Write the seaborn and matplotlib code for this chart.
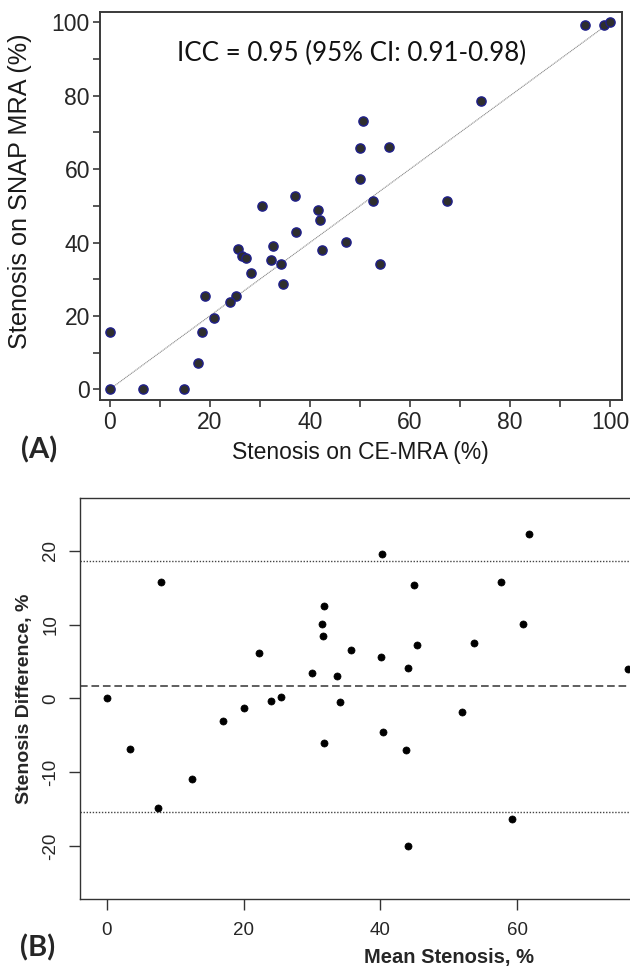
import matplotlib
matplotlib.use("Agg")
import matplotlib.pyplot as plt
import numpy as np
import pandas as pd
import seaborn as sns
from matplotlib.ticker import FixedLocator, MultipleLocator

# panel A: stenosis on CE-MRA vs SNAP MRA (%)
ce_mra = [95.0, 98.8, 100.0, 74.2, 50.7, 50.0, 55.9, 50.0, 52.7, 67.4, 37.1, 30.4,
          41.6, 42.0, 37.3, 47.2, 32.6, 25.6, 42.5, 26.5, 27.3, 32.2, 34.3, 54.0,
          28.2, 34.7, 19.1, 25.2, 24.1, 20.9, 0.0, 18.4, 17.7, 0.0, 6.7, 14.8]
snap_mra = [99.3, 99.3, 100.0, 78.5, 73.1, 65.7, 66.0, 57.4, 51.2, 51.2, 52.7, 50.0,
            48.8, 46.1, 42.9, 40.1, 39.1, 38.2, 37.9, 36.4, 35.8, 35.2, 34.1, 34.1,
            31.6, 28.7, 25.4, 25.4, 23.9, 19.5, 15.6, 15.6, 7.1, 0.0, 0.0, 0.0]
identity = [0, 100]
icc_text = "ICC = 0.95 (95% CI: 0.91-0.98)"

# panel B: Bland-Altman (visible points; the original is cropped on the right)
mean_sten = [0.0, 3.4, 7.4, 7.9, 12.5, 17.0, 20.1, 22.3, 24.0, 25.4, 30.0, 31.5,
             31.6, 31.8, 31.7, 33.7, 34.1, 35.7, 40.1, 40.2, 40.4, 43.8, 44.1, 44.1,
             44.9, 45.3, 51.9, 53.7, 57.7, 59.2, 60.9, 61.7, 76.3]
diff_sten = [0.0, -6.9, -14.9, 15.7, -10.9, -3.0, -1.3, 6.2, -0.3, 0.2, 3.4, 10.1,
             8.5, 12.5, -6.0, 3.1, -0.5, 6.5, 5.6, 19.5, -4.6, -7.0, 4.1, -20.0,
             15.4, 7.2, -1.8, 7.5, 15.7, -16.3, 10.1, 22.2, 4.0]
mean_diff = 1.7
limits = [-15.4, 18.6]
b_xticks = [0, 20, 40, 60]
b_yticks = [-20, -10, 0, 10, 20]

sns.set_theme(style="ticks")
plt.rcParams["font.family"] = ["Liberation Sans", "DejaVu Sans"]
plt.rcParams["axes.unicode_minus"] = False

W, H = 630, 969
fig = plt.figure(figsize=(W / 100, H / 100), dpi=100)


def px_box(left, top, right, bottom):
    return [left / W, 1 - bottom / H, (right - left) / W, (bottom - top) / H]


# ---- panel A
ax = fig.add_axes(px_box(99.6, 11.7, 621.7, 400))
dfa = pd.DataFrame({"ce": ce_mra, "snap": snap_mra})
ax.plot(identity, identity, color="#8a8a8a", lw=0.8, ls=(0, (1, 0.6)), zorder=1)
sns.scatterplot(data=dfa, x="ce", y="snap", ax=ax, s=44, color="#2e2e2e",
                edgecolor="#1f1f8a", linewidth=1.0, zorder=3)
ax.set_xlim(-2.0, 102.3)
ax.set_ylim(-2.9, 102.9)
ax.xaxis.set_major_locator(MultipleLocator(20))
ax.yaxis.set_major_locator(MultipleLocator(20))
ax.xaxis.set_minor_locator(MultipleLocator(10))
ax.yaxis.set_minor_locator(MultipleLocator(10))
ax.tick_params(which="both", direction="out", length=5, width=1.2, color="#3a3a3a")
ax.tick_params(axis="x", labelsize=16.5, pad=3)
ax.tick_params(axis="y", labelsize=16.5, pad=2)
for sp in ax.spines.values():
    sp.set_color("#3a3a3a")
    sp.set_linewidth(1.4)
ax.set_xlabel("Stenosis on CE-MRA (%)", fontsize=16.5, color="#1a1a1a")
ax.set_ylabel("Stenosis on SNAP MRA (%)", fontsize=18.2, color="#1a1a1a")
ax.xaxis.set_label_coords(0.5, -0.105)
ax.yaxis.set_label_coords(-0.1295, 0.538)
ax.text(0.4834, 0.8937, icc_text, transform=ax.transAxes, ha="center", va="center",
        fontsize=18.6, family=["Lato", "DejaVu Sans"], color="#111111")
fig.text(39 / W, 1 - 450 / H, "(A)", ha="center", va="center", fontsize=21,
         fontweight="bold", family=["Lato", "DejaVu Sans"])

# ---- panel B (right side runs past the canvas, as in the cropped original)
bx = fig.add_axes(px_box(80, 498.3, 817, 899.3))
dfb = pd.DataFrame({"mean": mean_sten, "diff": diff_sten})
sns.scatterplot(data=dfb, x="mean", y="diff", ax=bx, s=26, color="black",
                edgecolor="black", linewidth=0.5, zorder=3)
bx.axhline(mean_diff, color="#333333", lw=1.1, ls=(0, (5, 2.5)), zorder=1)
for lim in limits:
    bx.axhline(lim, color="#444444", lw=1.0, ls=(0, (1, 1.2)), zorder=1)
bx.set_xlim(-3.95, 103.9)
bx.set_ylim(-27.2, 27.1)
bx.xaxis.set_major_locator(FixedLocator(b_xticks))
bx.yaxis.set_major_locator(FixedLocator(b_yticks))
bx.tick_params(direction="out", length=8, width=1.0, color="#333333", labelsize=13.5)
bx.tick_params(axis="x", pad=8)
bx.tick_params(axis="y", pad=7, labelrotation=90)
for lab in bx.get_yticklabels():
    lab.set_va("center")
for sp in bx.spines.values():
    sp.set_color("#333333")
    sp.set_linewidth(1.0)
bx.set_xlabel("Mean Stenosis, %", fontsize=14.5, fontweight="bold")
bx.set_ylabel("Stenosis Difference, %", fontsize=14, fontweight="bold")
bx.xaxis.set_label_coords(0.5007, -0.1214)
bx.yaxis.set_label_coords(-0.0638, 0.5)
fig.text(38 / W, 1 - 948 / H, "(B)", ha="center", va="center", fontsize=21,
         fontweight="bold", family=["Lato", "DejaVu Sans"])

fig.savefig("out.png", dpi=100)
